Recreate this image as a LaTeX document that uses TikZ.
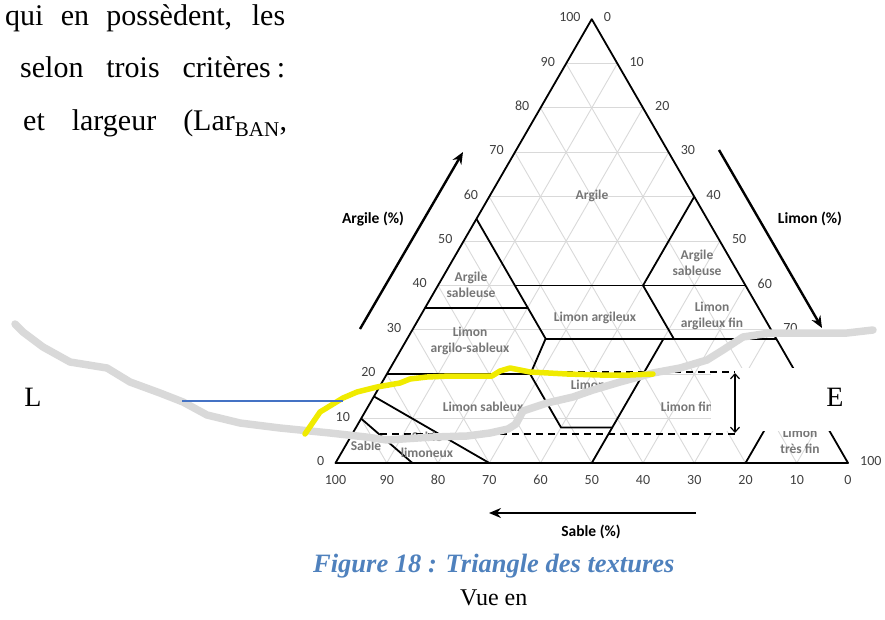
\documentclass[tikz,border=0pt]{standalone}
\usepackage{fontspec}
\setmainfont{Liberation Serif}
\newfontfamily\carl{Carlito}
\usetikzlibrary{arrows.meta}
\definecolor{gridc}{RGB}{217,217,217}
\definecolor{labc}{RGB}{118,118,118}
\definecolor{tickc}{RGB}{64,64,64}
\definecolor{capblue}{RGB}{79,129,189}
\definecolor{pathgray}{RGB}{217,217,217}
\definecolor{hl}{RGB}{240,235,0}
\definecolor{thinblue}{RGB}{68,114,196}
% point of the texture triangle: #1 = clay, #2 = silt (percent)
\newcommand{\TP}[2]{({335.5+5.125*(#2)+2.5625*(#1)},{463-4.4384*(#1)})}
\begin{document}
\begin{tikzpicture}[x=1pt,y=-1pt,
  gridline/.style={draw=gridc, line width=0.9pt},
  bnd/.style={draw=black, line width=1.8pt, line join=round},
  tick/.style={font=\carl\fontsize{14}{16}\selectfont, text=tickc, inner sep=0pt},
  reg/.style={font=\carl\bfseries\fontsize{13.5}{16}\selectfont, text=labc, align=center, inner sep=0pt},
  axtitle/.style={font=\carl\bfseries\fontsize{15.5}{18}\selectfont, inner sep=0pt},
  axarrow/.style={line width=2.4pt, -{Stealth[length=12pt,width=10pt,inset=4pt]}},
  dashline/.style={line width=1.6pt, dash pattern=on 7pt off 5pt},
  trace/.style={line width=7.5pt, draw=pathgray, line cap=round, line join=round},
  hltrace/.style={line width=5.5pt, draw=hl, line cap=round, line join=round},
  body/.style={inner sep=0pt, font=\fontsize{30}{36}\selectfont}]
\useasboundingbox (0,0) rectangle (885,620);

% grid
\foreach \v in {10,20,...,90}{
  \draw[gridline] \TP{\v}{0} -- \TP{\v}{100-\v};
  \draw[gridline] \TP{0}{\v} -- \TP{100-\v}{\v};
  \draw[gridline] \TP{0}{100-\v} -- \TP{100-\v}{0};
}

% triangle
\draw[bnd] \TP{0}{0} -- \TP{0}{100} -- \TP{100}{0} -- cycle;

% class boundaries
\draw[bnd] \TP{55}{0} -- \TP{28}{27} -- \TP{20}{28} -- \TP{8}{40} -- \TP{8}{50};
\draw[bnd] \TP{35}{0} -- \TP{35}{20};
\draw[bnd] \TP{40}{15} -- \TP{40}{60};
\draw[bnd] \TP{60}{40} -- \TP{40}{40} -- \TP{28}{52};
\draw[bnd] \TP{28}{27} -- \TP{28}{72};
\draw[bnd] \TP{20}{0} -- \TP{20}{28};
\draw[bnd] \TP{28}{50} -- \TP{0}{50};
\draw[bnd] \TP{15}{0} -- \TP{0}{30};
\draw[bnd] \TP{10}{0} -- \TP{0}{15};
\draw[bnd] \TP{0}{80} -- \TP{12}{80} -- \TP{12}{88};

% tick labels
\foreach \c in {0,10,...,100}
  \node[tick, anchor=east] (cl\c) at ({335.5+2.5625*\c-11},{463-4.4384*\c-2}) {\c};
\foreach \l in {0,10,...,70,100}
  \node[tick, anchor=west] (si\l) at ({591.75+2.5625*\l+12},{19.16+4.4384*\l-2}) {\l};
\foreach \v [evaluate=\v as \w using int(100-\v)] in {0,10,...,100}
  \node[tick] (sa\v) at ({335.5+5.125*\v},480) {\w};

% class labels
\node[reg] (lArg) at (592,196) {Argile};
\node[reg] (lASr) at (697,263) {Argile\\sableuse};
\node[reg] (lASl) at (471,285) {Argile\\sableuse};
\node[reg] (lLA) at (595,318) {Limon argileux};
\node[reg] (lLAf) at (712,316) {Limon\\argileux fin};
\node[reg] (lLAS) at (470,341) {Limon\\argilo-sableux};
\node[reg] (lLS) at (483,407) {Limon sableux};
\node[reg] (lL) at (588,385) {Limon};
\node[reg] (lLf) at (687,407) {Limon fin};
\node[reg] (lLtf) at (800,441) {Limon\\très fin};
\node[reg] (lS) at (366,446) {Sable};
\node[reg] (lSL) at (427,445) {Sable\\limoneux};

% white box behind E
\fill[white] (711,368) rectangle (872,431);

% dashed frame and double arrow
\draw[dashline] (530,372) -- (735,372);
\draw[dashline] (380,434) -- (735,434);
\coordinate (dtop) at (735,373);
\coordinate (dbot) at (735,433);
\draw[line width=1.2pt, {Straight Barb[length=5pt,width=9pt]}-{Straight Barb[length=5pt,width=9pt]}] (dtop) -- (dbot);

\node[inner sep=0pt, font=\fontsize{28}{30}\selectfont] (E) at (835,397) {E};
\node[inner sep=0pt, font=\fontsize{28}{30}\selectfont] (L) at (33,397) {L};

% grey trace
\draw[trace] (15,324) -- (23,332) -- (43,347) -- (70,362) -- (107,368) -- (130,382) -- (160,393) -- (183,402) -- (207,415) -- (240,423) -- (280,428) -- (330,433) -- (366,437) -- (387,440) -- (433,437) -- (467,436) -- (490,433) -- (508,429) -- (516,424) -- (523,411) -- (547,403) -- (573,397) -- (593,390) -- (620,382) -- (653,373) -- (680,368) -- (707,360) -- (723,350) -- (743,337) -- (770,333) -- (847,333) -- (873,330);
% yellow trace
\draw[hltrace] (305,434) -- (320,412) -- (343,398) -- (357,392) -- (377,387) -- (400,383) -- (410,379) -- (427,377) -- (450,376) -- (492,376) -- (500,371) -- (510,368) -- (530,372) -- (567,374) -- (600,375) -- (630,375) -- (653,374);
% blue line
\coordinate (b1) at (182,401);
\coordinate (b2) at (343,401);
\draw[thinblue, line width=1.3pt] (b1) -- (b2);

% axis arrows and titles
\coordinate (aA1) at (360,329); \coordinate (aA2) at (463,152);
\coordinate (aL1) at (719,150); \coordinate (aL2) at (822,328);
\coordinate (aS1) at (696,513); \coordinate (aS2) at (489,513);
\draw[axarrow] (aA1) -- (aA2);
\draw[axarrow] (aL1) -- (aL2);
\draw[axarrow] (aS1) -- (aS2);
\node[axtitle] (tA) at (373,219) {Argile (\%)};
\node[axtitle] (tL) at (810,219) {Limon (\%)};
\node[axtitle] (tS) at (591,532) {Sable (\%)};

% body text
\node[body, anchor=base west] (p1) at (5,26) {\makebox[280pt][s]{qui en possèdent, les}};
\node[body, anchor=base west] (p2) at (20,78) {\makebox[265pt][s]{selon trois critères\hspace{6pt}:}};
\node[body, anchor=base west] (p3) at (23,131) {\makebox[264pt][s]{et largeur (Lar\textsubscript{BAN},}};

\node[inner sep=0pt, anchor=base west, text=capblue, font=\fontsize{26.5}{30}\selectfont\bfseries\itshape] (cap) at (313,572) {Figure 18 : Triangle des textures};
\node[inner sep=0pt, anchor=base west, font=\fontsize{24}{28}\selectfont] (vue) at (460,605) {Vue en};
\end{tikzpicture}
\end{document}
